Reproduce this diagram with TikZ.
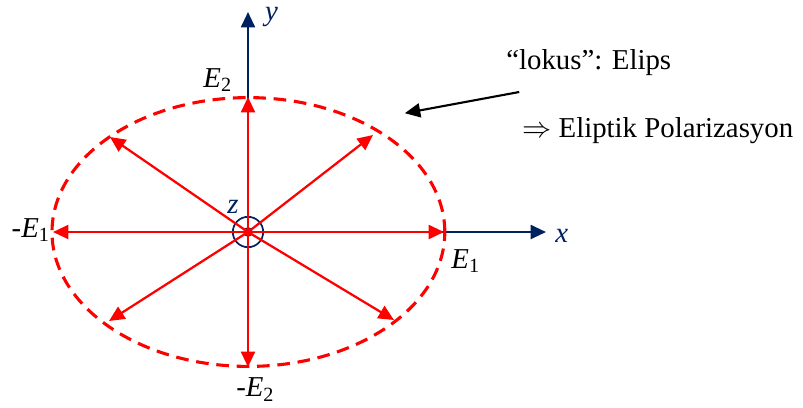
\documentclass[tikz,border=0pt]{standalone}
\usepackage{fontspec}
\setmainfont{Liberation Serif}
\usepackage{tikz}
\usetikzlibrary{arrows.meta}
\definecolor{axisblue}{RGB}{0,32,96}

\begin{document}
\begin{tikzpicture}[
        vec/.style={red, line width=1.6pt, -{Triangle[length=11pt,width=10pt]}},
        axis/.style={axisblue, line width=1.6pt, -{Triangle[length=11pt,width=10pt]}},
        lbl/.style={font=\fontsize{20.5}{24}\selectfont, inner sep=0pt},
    ]
    \useasboundingbox (-6.2,-4.375) rectangle (13.875,5.8);

    \coordinate (O) at (0,0);
    \coordinate (xend) at (7.45,0);
    \coordinate (yend) at (0,5.5);

    % field vector tips on the ellipse
    \coordinate (e1) at (4.9,0);
    \coordinate (m1) at (-4.875,0);
    \coordinate (e2) at (0,3.375);
    \coordinate (m2) at (0,-3.375);
    \coordinate (ul) at (-3.45,2.375);
    \coordinate (ur) at (3.125,2.425);
    \coordinate (ll) at (-3.475,-2.225);
    \coordinate (lr) at (3.65,-2.2);

    \draw[axis] (O) -- (xend);
    \draw[axis] (O) -- (yend);

    \draw[red, line width=2.2pt, dash pattern=on 9pt off 5.5pt] (0.01,0) ellipse (4.91cm and 3.36cm);

    \draw[axisblue, line width=1.2pt] (O) circle (0.38);
    \fill[axisblue] (O) circle (0.12);

    \foreach \p in {e1,m1,e2,m2,ul,ur,ll,lr}{
        \draw[vec] (O) -- (\p);
    }
    \fill[red] (O) circle (0.1);

    \node[lbl, text=axisblue, anchor=base west] (xl) at (7.68,-0.25) {\textit{x}};
    \node[lbl, text=axisblue, anchor=base west] (yl) at (0.42,5.3) {\textit{y}};
    \node[lbl, text=axisblue, anchor=base west] (zl) at (-0.52,0.475) {\textit{z}};

    \node[lbl, anchor=base west] (E1l) at (5.08,-0.9) {\textit{E}\textsubscript{1}};
    \node[lbl, anchor=base east] (M1l) at (-4.95,-0.125) {-\textit{E}\textsubscript{1}};
    \node[lbl, anchor=base west] (E2l) at (-1.12,3.625) {\textit{E}\textsubscript{2}};
    \node[lbl, anchor=base west] (M2l) at (-0.3,-4.12) {-\textit{E}\textsubscript{2}};

    \node[lbl, anchor=base west] (lokus) at (6.45,4.075) {``lokus'': Elips};
    \node[lbl, anchor=base west] (polar) at (6.85,2.375) {$\Rightarrow$ Eliptik Polarizasyon};

    \coordinate (pstart) at (6.78,3.5);
    \coordinate (pend) at (3.92,2.97);
    \draw[line width=1.5pt, -{Triangle[length=11pt,width=10pt]}] (pstart) -- (pend);
\end{tikzpicture}
\end{document}
